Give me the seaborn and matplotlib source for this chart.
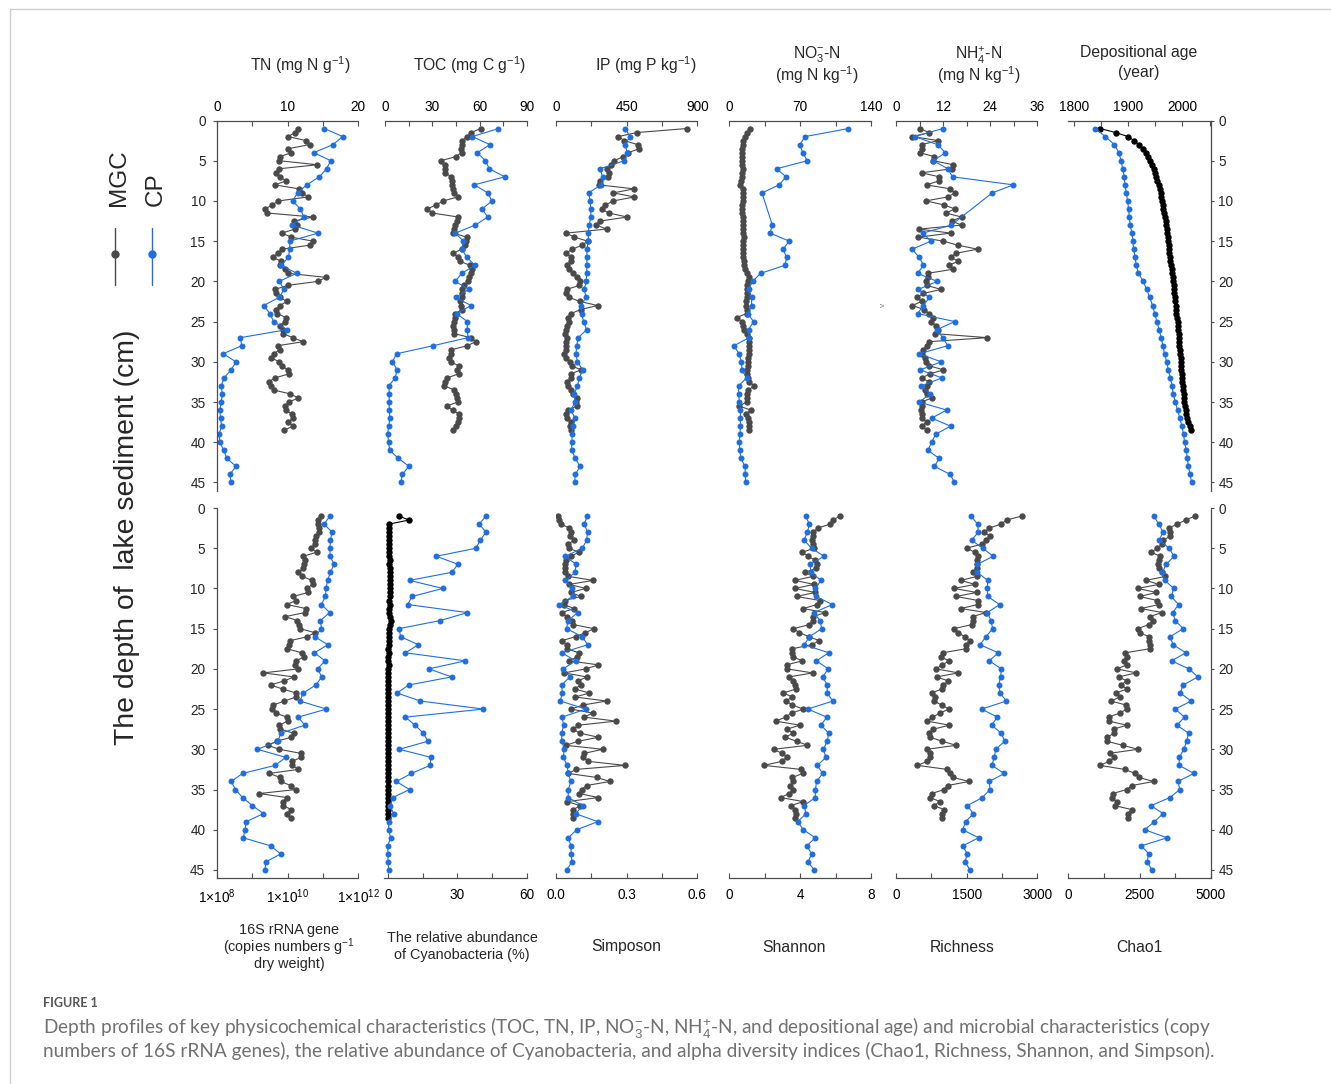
import numpy as np
import pandas as pd
import seaborn as sns
import matplotlib.pyplot as plt
from matplotlib.lines import Line2D

sns.set_theme(style="white")
plt.rcParams['font.family'] = ['Liberation Sans', 'DejaVu Sans']
plt.rcParams['mathtext.fontset'] = 'custom'
plt.rcParams['mathtext.rm'] = 'Liberation Sans'
plt.rcParams['mathtext.it'] = 'Liberation Sans:italic'
plt.rcParams['mathtext.bf'] = 'Liberation Sans:bold'

# sampling depths (cm): MGC every 0.5 cm, CP every 1 cm
depth_mgc = np.arange(1, 39, 0.5)
depth_cp = np.arange(1, 46, 1)
nan = np.nan

# ---- physicochemical (top row) ----
tn_mgc = [11.5, 11.0, 10.1, 12.6, 13.1, 10.1, 10.5, 8.9, 8.8, 14.2,
          8.8, 8.4, 8.9, 9.8, 8.2, 11.6, 12.1, 12.9, 8.7, 7.8,
          6.8, 7.1, 13.6, 10.9, 11.3, 11.0, 9.2, 10.5, 13.6, 13.1,
          9.2, 8.6, 7.9, 9.1, 8.9, 9.6, 10.1, 15.4, 14.3, 10.0,
          8.2, 8.3, 8.9, 9.9, 8.9, 8.4, 8.5, 9.8, 9.6, 8.9,
          9.3, 9.4, 10.7, 12.2, 8.6, 8.9, 8.0, 7.7, 8.8, 9.2,
          10.0, 10.2, 8.2, 7.3, 7.6, 8.0, 10.4, 11.5, 10.2, 9.6,
          9.7, 10.6, 10.8, 10.0, 10.8, 9.5]
tn_cp = [15.2, 17.8, 16.4, 13.7, 16.1, 15.5, 14.5, 12.7, 11.4, 10.7,
         11.8, 12.3, 10.6, 14.3, 10.3, 10.3, 10.1, 9.1, 11.3, 8.8,
         9.5, 8.8, 6.6, 7.5, 8.0, 9.9, 3.3, 3.5, 0.85, 2.7,
         2.0, 1.0, 0.6, 0.75, 0.6, 0.4, 0.5, 0.65, 0.3, 0.4,
         0.95, 1.4, 2.7, 1.8, 2.0]

toc_mgc = [60.7, 54.6, 52.2, 49.0, 48.6, 48.4, 48.6, 44.8, 35.4, 38.2,
           38.2, 38.2, 41.8, 42.7, 42.7, 42.9, 43.7, 46.1, 36.9, 32.3,
           26.7, 29.7, 46.5, 45.4, 44.6, 43.7, 43.3, 51.8, 51.4, 50.7,
           48.6, 43.3, 46.5, 47.5, 53.9, 55.0, 54.3, 53.5, 52.8, 50.1,
           48.6, 49.0, 48.6, 47.5, 48.0, 48.8, 44.4, 44.4, 43.9, 43.3,
           43.7, 43.9, 54.3, 57.5, 52.2, 42.0, 41.6, 40.3, 41.6, 46.9,
           45.4, 46.7, 39.3, 38.0, 37.6, 43.9, 44.8, 45.6, 46.1, 39.1,
           42.9, 46.7, 46.7, 46.3, 45.0, 42.9]
toc_cp = [72.0, 55.4, 66.6, 58.6, 63.7, 66.2, 76.0, 56.7, 65.2, 67.9,
          61.6, 65.2, 57.3, 44.6, 49.7, 48.8, 51.8, 57.1, 48.6, 44.6,
          53.0, 44.8, 54.6, 45.4, 52.2, 52.2, 52.6, 30.4, 7.2, 4.5,
          7.6, 6.2, 2.3, 2.5, 2.5, 2.5, 3.0, 2.1, 1.5, 2.1,
          2.8, 8.3, 15.1, 10.8, 10.0]

ip_mgc = [832, 514, 397, 435, 520, 529, 461, 429, 369, 350,
          327, 340, 333, 280, 274, 497, 365, 499, 365, 314,
          293, 335, 454, 280, 255, 323, 64, 117, 202, 166,
          104, 62, 96, 93, 72, 83, 110, 136, 153, 149,
          68, 64, 85, 153, 265, 157, 96, 79, 81, 72,
          62, 55, 68, 64, 64, 64, 51, 64, 91, 100,
          159, 93, 98, 68, 76, 93, 110, 132, 127, 132,
          79, 64, 70, 93, 89, 93]
ip_cp = [441, 471, 439, 454, 435, 280, 297, 287, 208, 217,
         221, 223, 210, 206, 206, 197, 197, 197, 195, 193,
         180, 191, 159, 163, 176, 195, 142, 132, 127, 136,
         170, 149, 136, 117, 123, 93, 123, 106, 104, 100,
         100, 123, 153, 123, 119]

no3_mgc = [20.4, 17.1, 15.2, 13.8, 13.2, 12.2, 12.2, 12.5, 12.5, 12.8,
           13.2, 12.5, 12.8, 11.5, 10.5, 13.8, 13.8, 13.2, 13.2, 12.8,
           12.5, 12.5, 13.5, 13.5, 13.2, 13.8, 13.8, 14.2, 13.8, 13.8,
           13.5, 13.8, 13.8, 14.5, 14.5, 15.2, 17.1, 19.8, 18.8, 17.8,
           17.1, 17.8, 17.1, 16.5, 16.5, 17.1, 17.1, 7.2, 12.2, 13.8,
           14.5, 17.8, 19.1, 19.8, 19.1, 19.8, 19.1, 18.8, 18.8, 18.4,
           17.1, 17.1, 18.8, 19.8, 24.7, 18.8, 17.8, 17.8, 17.1, 9.9,
           21.1, 16.5, 18.8, 19.8, 19.8, 19.8]
no3_cp = [117.6, 74.8, 69.8, 72.5, 77.1, 46.8, 56.0, 49.4, 32.3, nan,
          nan, nan, 42.5, 40.2, 59.3, 53.0, 56.7, 55.0, 31.0, 23.0,
          19.0, 22.0, 22.0, 18.0, 24.0, 19.0, 19.5, 4.6, 9.6, 12.0,
          12.5, 17.0, 9.2, 9.2, 10.0, 11.0, 11.0, 11.0, 10.5, 10.0,
          10.2, 11.5, 15.5, 15.8, 16.1]

nh4_mgc = [6.1, 8.4, 4.2, 10.8, 6.5, 6.5, 6.1, 9.8, 9.5, 14.6,
           14.2, 6.5, 11.0, 11.0, 7.8, 13.8, 15.0, 13.2, 7.6, 12.3,
           15.0, 12.7, 16.7, 14.2, 16.7, 5.9, 14.0, 5.7, 12.1, 15.7,
           20.8, 15.4, 13.9, 15.9, 13.5, 14.4, 8.1, 8.2, 7.7, 7.8,
           11.5, 7.0, 5.3, 6.5, 4.2, 7.1, 8.5, 9.5, 8.8, 10.2,
           10.8, 9.9, 23.3, 8.3, 7.8, 7.0, 6.7, 7.4, 7.6, 8.5,
           12.1, 8.7, 6.5, 8.5, 7.8, 7.4, 7.8, 9.1, 6.5, 6.5,
           6.3, 6.5, 6.7, 7.8, 6.5, 7.8]
nh4_cp = [11.9, 4.8, 10.6, 12.6, 9.5, 13.2, 14.4, 29.9, 24.5, nan,
          nan, nan, 14.1, 6.8, 8.9, 4.1, 5.9, 7.0, 5.5, 10.5,
          5.7, 8.5, 7.0, 5.5, 15.0, 10.4, 11.9, 13.2, 5.9, 11.5,
          6.2, 11.7, 6.4, 8.7, 5.9, 12.9, 9.1, 13.9, 10.1, 9.1,
          8.1, 11.0, 9.8, 13.8, 14.9]

age_mgc = [1849, 1877, 1900, 1911, 1920, 1928, 1933, 1937, 1941, 1944,
           1947, 1950, 1952, 1954, 1956, 1958, 1960, 1961, 1963, 1964,
           1965, 1966, 1967, 1969, 1970, 1971, 1972, 1973, 1974, 1975,
           1975.5, 1976, 1977, 1978, 1979, 1980, 1981, 1982, 1983, 1984,
           1984.5, 1985, 1986, 1987, 1988, 1988.5, 1989, 1990, 1991, 1991.5,
           1992, 1993, 1993.5, 1994, 1994.5, 1995, 1996, 1996.5, 1997, 1997.5,
           1998, 1999, 1999.5, 2000, 2000.5, 2001, 2002, 2002.5, 2003.5, 2005,
           2006, 2007, 2009, 2011, 2013.5, 2016.5]
age_cp = [1840, 1858, 1875, 1883, 1887, 1890, 1893, 1894, 1897, 1899,
          1901, 1902, 1904, 1907, 1909, 1910, 1913, 1915, 1919, 1928,
          1934, 1940, 1945, 1949, 1953, 1957, 1961, 1964, 1967, 1971,
          1974, 1978, 1981, 1983, 1987, 1991, 1995, 1999, 2002, 2004,
          2007, 2009, 2011, 2014, 2017]

# ---- microbial (bottom row) ----
log16s_mgc = [10.95, 10.85, 10.87, 10.89, 10.88, 10.80, 10.79, 10.79, 10.67, 10.82,
              10.45, 10.49, 10.48, 10.43, 10.31, 10.42, 10.69, 10.71, 10.54, 10.59,
              10.15, 10.24, 9.98, 10.52, 10.49, 9.94, 10.28, 10.33, 10.35, 10.77,
              10.56, 10.07, 10.03, 9.99, 10.40, 10.48, 10.24, 10.22, 10.31, 9.32,
              10.18, 9.90, 9.52, 9.86, 10.24, 10.24, 9.91, 9.60, 9.56, 9.67,
              9.98, 10.00, 9.77, 9.79, 10.18, 10.11, 9.69, 9.44, 9.77, 10.37,
              10.39, 10.12, 10.12, 10.31, 9.49, 9.79, 9.81, 10.09, 10.24, 9.20,
              9.98, 9.88, 9.88, 10.11, 9.98, 10.11]
log16s_cp = [11.20, 11.03, 11.26, 11.21, 11.20, 11.20, 11.32, 11.21, 11.13, 11.09,
             11.07, 10.96, 11.19, 10.93, 10.96, 10.77, 11.14, 10.76, 11.06, 10.85,
             10.97, 10.80, 10.45, 10.35, 11.10, 10.30, 10.49, 9.81, 9.73, 9.15,
             9.95, 9.65, 8.73, 8.41, 8.53, 8.73, 9.01, 9.32, 8.83, 8.80,
             8.75, 9.52, 9.81, 9.39, 9.36]

cyano_mgc = [4.9, 9.1, 0.6, 0.5, 0.6, 0.5, 0.6, 0.7, 0.6, 0.7,
             0.7, 0.8, 0.7, 0.8, 0.8, 0.9, 0.9, 1.0, 0.9, 0.8,
             0.8, 0.7, 0.8, 0.7, 0.7, 0.9, 1.5, 1.0, 0.5, 0.5,
             0.4, 0.4, 0.4, 0.3, 0.4, 0.3, 0.3, 0.4, 0.3, 0.3,
             0.3, 0.2, 0.3, 0.3, 0.2, 0.3, 0.3, 0.2, 0.3, 0.3,
             0.2, 0.3, 0.3, 0.2, 0.3, 0.3, 0.2, 0.3, 0.3, 0.3,
             0.2, 0.3, 0.3, 0.2, 0.3, 0.2, 0.3, 0.3, 0.2, 0.3,
             0.2, 0.2, 0.3, 0.2, 0.2, 0.1]
cyano_cp = [42.4, 39.5, 42.4, 40.0, 38.1, 21.0, 30.3, 27.6, 9.4, 23.8,
            10.5, 8.6, 34.4, 22.6, 4.8, 5.6, 13.2, 7.6, 33.5, 17.8,
            27.6, 9.1, 4.0, 14.1, 41.3, 7.6, 11.8, 15.4, 17.3, 5.0,
            18.6, 18.3, 10.2, 3.7, 9.4, 2.2, 0.9, 2.6, 0.4, 0.4,
            1.2, 0.0, 0.1, 0.1, 0.4]

simpson_mgc = [0.010, 0.014, 0.021, 0.057, 0.065, 0.059, 0.076, 0.052, 0.054, 0.098,
               0.062, 0.042, 0.038, 0.040, 0.037, 0.052, 0.158, 0.057, 0.126, 0.064,
               0.105, 0.037, 0.035, 0.076, 0.025, 0.045, 0.067, 0.074, 0.161, 0.125,
               0.083, 0.024, 0.048, 0.045, 0.098, 0.091, 0.055, 0.180, 0.127, 0.035,
               0.130, 0.095, 0.105, 0.079, 0.142, 0.081, 0.215, 0.113, 0.064, 0.156,
               0.120, 0.255, 0.095, 0.071, 0.102, 0.180, 0.095, 0.041, 0.198, 0.120,
               0.113, 0.137, 0.293, 0.085, 0.052, 0.173, 0.229, 0.130, 0.109, 0.099,
               0.180, 0.048, 0.102, 0.074, 0.071, 0.071]
simpson_cp = [0.133, 0.120, 0.134, 0.130, 0.112, 0.040, 0.085, 0.081, 0.040, 0.069,
              0.071, 0.013, 0.092, 0.051, 0.045, 0.112, 0.134, 0.025, 0.083, 0.030,
              0.059, 0.024, 0.027, 0.018, 0.127, 0.025, 0.033, 0.024, 0.025, 0.035,
              0.031, 0.048, 0.051, 0.064, 0.052, 0.052, 0.113, 0.083, 0.177, 0.088,
              0.052, 0.064, 0.064, 0.068, 0.045]

shannon_mgc = [6.25, 5.84, 5.69, 4.99, 4.75, 4.71, 4.65, 4.71, 4.78, 4.12,
               4.46, 4.84, 4.93, 4.90, 4.27, 4.71, 3.71, 4.78, 3.71, 4.84,
               3.80, 5.12, 4.95, 4.18, 5.40, 4.75, 4.75, 4.52, 3.62, 3.95,
               4.52, 5.08, 4.65, 3.56, 3.56, 3.58, 4.12, 3.24, 3.24, 4.71,
               3.37, 3.62, 3.71, 3.77, 3.05, 3.56, 3.20, 3.56, 4.18, 3.52,
               3.18, 2.62, 3.99, 3.24, 3.62, 3.15, 3.80, 4.41, 2.52, 2.96,
               3.24, 2.96, 1.96, 4.05, 4.14, 3.56, 3.62, 3.43, 3.62, 3.37,
               2.90, 4.18, 3.47, 3.71, 3.75, 3.71]
shannon_cp = [4.31, 4.52, 4.41, 4.22, 4.65, 5.35, 4.56, 4.60, 5.18, 4.86,
              4.90, 5.82, 4.78, 5.12, 5.22, 4.52, 4.24, 5.61, 4.92, 5.59,
              5.27, 5.53, 5.53, 5.84, 4.43, 5.50, 5.18, 5.61, 5.53, 5.31,
              5.46, 4.97, 5.27, 4.93, 4.86, 4.86, 4.22, 4.33, 3.86, 4.18,
              4.86, 4.37, 4.65, 4.44, 4.80]

richness_mgc = [2668, 2350, 2229, 1981, 1875, 1996, 1911, 1819, 1500, 1677,
                1734, 1713, 1727, 1713, 1642, 1727, 1373, 1677, 1231, 1713,
                1274, 1741, 1734, 1380, 1911, 1628, 1628, 1606, 1231, 1309,
                1465, 1571, 1486, 1486, 991, 948, 1125, 984, 849, 1323,
                863, 1111, 1005, 970, 757, 828, 807, 970, 1125, 934,
                771, 665, 1132, 792, 708, 722, 984, 1274, 665, 722,
                722, 665, 453, 1090, 1146, 1217, 1550, 1097, 1026, 757,
                722, 934, 807, 1026, 970, 970]
richness_cp = [1592, 1734, 1748, 1606, 1840, 2066, 1727, 1727, 1946, 1939,
               1946, 2201, 1939, 2017, 2052, 1911, 1783, 2172, 1981, 2236,
               2222, 2180, 2208, 2343, 1819, 2151, 2031, 2236, 2307, 2116,
               2088, 2031, 2300, 1981, 1996, 1833, 1514, 1642, 1479, 1415,
               1755, 1415, 1514, 1465, 1571]

chao1_mgc = [4447, 4118, 3824, 3529, 3565, 3588, 3329, 3294, 3118, 2906,
             3235, 3176, 3153, 3176, 3294, 3412, 2729, 3176, 2435, 3094,
             2506, 3118, 3176, 2553, 3294, 2859, 2976, 2824, 2435, 2506,
             2824, 2824, 2859, 2859, 2000, 2059, 1941, 2059, 1706, 2388,
             1765, 2059, 1847, 2059, 1682, 1800, 1494, 2035, 2059, 1800,
             1412, 1424, 2059, 1588, 1612, 1353, 1353, 1906, 2447, 1447,
             1612, 1424, 1118, 1976, 2353, 2471, 3000, 2235, 2059, 1553,
             1529, 1706, 1624, 2235, 2082, 2082]
chao1_cp = [3000, 3176, 3329, 3188, 3541, 3706, 3447, 3294, 3388, 3706,
            3612, 3871, 3671, 3753, 4035, 3576, 3682, 4129, 3624, 4235,
            4553, 4035, 3929, 4318, 3753, 4082, 3812, 4224, 4153, 4059,
            3894, 3894, 4412, 3847, 3918, 3565, 2906, 3329, 3024, 2682,
            3471, 2565, 2824, 2765, 2941]

top_titles = [['TN (mg N g$^{-1}$)'], ['TOC (mg C g$^{-1}$)'], ['IP (mg P kg$^{-1}$)'],
              ['NO$_3^{-}$-N', '(mg N kg$^{-1}$)'], ['NH$_4^{+}$-N', '(mg N kg$^{-1}$)'],
              ['Depositional age', '(year)']]
bottom_titles = [['16S rRNA gene', '(copies numbers g$^{-1}$', 'dry weight)'],
                 ['The relative abundance', 'of Cyanobacteria (%)'],
                 ['Simposon'], ['Shannon'], ['Richness'], ['Chao1']]

W, H = 1331, 1084
fig = plt.figure(figsize=(W / 100, H / 100), dpi=100)

GRAY = '#4a4a4a'
BLUE = '#1f6fe0'
BLACK = '#000000'
AXC = '#4d4d4d'


def px_axes(x0, x1, ytop, ybot):
    return fig.add_axes([x0 / W, 1 - ybot / H, (x1 - x0) / W, (ybot - ytop) / H])


def profile(ax, mgc, cp, mgc_color=GRAY):
    for depth, vals, col, ms in [(depth_mgc, mgc, mgc_color, 4.6),
                                 (depth_cp, cp, BLUE, 4.3)]:
        df = pd.DataFrame({'depth': depth, 'value': vals}).dropna()
        sns.lineplot(data=df, x='value', y='depth', sort=False, estimator=None,
                     color=col, linewidth=0.8, marker='o', markersize=ms,
                     markeredgewidth=0, ax=ax)


def style(ax, row, col, xlim, major, labels, minor):
    for s in ax.spines.values():
        s.set_visible(False)
        s.set_color(AXC)
        s.set_linewidth(0.9)
    ax.set_xlim(*xlim)
    ax.set_ylim(46, 0)
    ax.set_xlabel('')
    ax.set_ylabel('')
    ax.set_xticks(major)
    ax.set_xticklabels(labels)
    ax.set_xticks(minor, minor=True)
    if row == 0:
        ax.spines['top'].set_visible(True)
        ax.tick_params(axis='x', which='both', top=True, bottom=False,
                       labeltop=True, labelbottom=False, direction='in')
        ax.tick_params(axis='x', which='major', pad=5)
    else:
        ax.spines['bottom'].set_visible(True)
        ax.tick_params(axis='x', which='both', top=False, bottom=True,
                       labeltop=False, labelbottom=True, direction='in')
        ax.tick_params(axis='x', which='major', pad=7)
    ax.tick_params(axis='x', which='both', length=3.5, width=0.8, color=AXC,
                   labelsize=9.8, labelcolor='black')
    ax.set_yticks(range(0, 46, 5))
    if col == 0:
        ax.spines['left'].set_visible(True)
        ax.tick_params(axis='y', left=True, right=False, labelleft=True,
                       labelright=False, direction='out', length=3.2, width=0.8,
                       color=AXC, pad=5, labelsize=9.8)
    elif col == 5:
        ax.spines['right'].set_visible(True)
        ax.tick_params(axis='y', left=False, right=True, labelleft=False,
                       labelright=True, direction='out', length=2.5, width=0.8,
                       color=AXC, pad=3, labelsize=9.8)
    else:
        ax.tick_params(axis='y', left=False, right=False, labelleft=False,
                       labelright=False)
    ax.patch.set_alpha(0)


def title_lines(cx, ycenter, lines, step, fs):
    y0 = ycenter - step * (len(lines) - 1) / 2
    for k, t in enumerate(lines):
        fig.text(cx / W, 1 - (y0 + k * step) / H, t, ha='center', va='center',
                 fontsize=fs)


# ---- top row ----
top_x = [(217, 358.3), (385.3, 526.7), (556, 697.3), (729.3, 871),
         (896, 1037.3), (1068.3, 1210.7)]
top_data = [(tn_mgc, tn_cp, GRAY), (toc_mgc, toc_cp, GRAY), (ip_mgc, ip_cp, GRAY),
            (no3_mgc, no3_cp, GRAY), (nh4_mgc, nh4_cp, GRAY), (age_mgc, age_cp, BLACK)]
top_axis = [((0, 20), [0, 10, 20], ['0', '10', '20'], [5, 15]),
            ((0, 90), [0, 30, 60, 90], ['0', '30', '60', '90'], [15, 45, 75]),
            ((0, 900), [0, 450, 900], ['0', '450', '900'], [225, 675]),
            ((0, 140), [0, 70, 140], ['0', '70', '140'], [35, 105]),
            ((0, 36), [0, 12, 24, 36], ['0', '12', '24', '36'], [6, 18, 30]),
            ((1790, 2052), [1800, 1900, 2000], ['1800', '1900', '2000'], [1850, 1950, 2050])]
top_title_x = [300, 470, 646, 817, 979, 1139]
top_title_y = [65, 65, 65, 65, 65, 63]

for i in range(6):
    ax = px_axes(top_x[i][0], top_x[i][1], 120.5, 490.5)
    mgc, cp, c = top_data[i]
    profile(ax, mgc, cp, c)
    style(ax, 0, i, *top_axis[i])
    title_lines(top_title_x[i], top_title_y[i], top_titles[i], 20, 11.3)

# ---- bottom row ----
bot_x = [(216.7, 358.3), (384.3, 526.7), (556, 697.3), (729.3, 871),
         (896, 1037.3), (1068.3, 1210.7)]
bot_data = [(10 ** np.array(log16s_mgc), 10 ** np.array(log16s_cp), GRAY),
            (cyano_mgc, cyano_cp, BLACK), (simpson_mgc, simpson_cp, GRAY),
            (shannon_mgc, shannon_cp, GRAY), (richness_mgc, richness_cp, GRAY),
            (chao1_mgc, chao1_cp, GRAY)]
bot_axis = [((1e8, 1e12), [1e8, 1e10, 1e12],
             ['1×10$^{8}$', '1×10$^{10}$', '1×10$^{12}$'], [1e9, 1e11]),
            ((-1.5, 60), [0, 30, 60], ['0', '30', '60'], [15, 45]),
            ((0, 0.6), [0, 0.3, 0.6], ['0.0', '0.3', '0.6'], [0.15, 0.45]),
            ((0, 8), [0, 4, 8], ['0', '4', '8'], [2, 6]),
            ((0, 3000), [0, 1500, 3000], ['0', '1500', '3000'], [750, 2250]),
            ((0, 5000), [0, 2500, 5000], ['0', '2500', '5000'], [1250, 3750])]
bot_title_x = [289, 462, 626, 794, 962, 1139]
bot_title_fs = [10.4, 10.4, 11.3, 11.3, 11.3, 11.3]

for i in range(6):
    ax = px_axes(bot_x[i][0], bot_x[i][1], 508, 878)
    if i == 0:
        ax.set_xscale('log')
    mgc, cp, c = bot_data[i]
    profile(ax, mgc, cp, c)
    style(ax, 1, i, *bot_axis[i])
    if i == 0:
        ax.xaxis.set_minor_formatter(plt.NullFormatter())
    title_lines(bot_title_x[i], 947, bottom_titles[i], 17, bot_title_fs[i])

# ---- shared y label and rotated legend ----
fig.text(127 / W, 1 - 537 / H, 'The depth of  lake sediment (cm)', rotation=90,
         ha='center', va='center', fontsize=20.4)
for lx, tx, lab, col in [(115, 119, 'MGC', GRAY), (152, 156, 'CP', BLUE)]:
    fig.add_artist(Line2D([lx / W, lx / W], [1 - 228 / H, 1 - 285 / H],
                          transform=fig.transFigure, color=col, lw=1.0))
    fig.add_artist(Line2D([lx / W], [1 - 254 / H], transform=fig.transFigure,
                          color=col, marker='o', markersize=6, markeredgewidth=0))
    fig.text(tx / W, 1 - 206 / H, lab, rotation=90, ha='center', va='bottom',
             fontsize=17.5)

fig.text(883 / W, 1 - 305 / H, 'v', rotation=90, ha='center', va='center',
         fontsize=6, color='#777777')

# ---- frame and caption ----
fig.add_artist(Line2D([10 / W, 1], [1 - 9 / H, 1 - 9 / H], transform=fig.transFigure,
                      color='#cfcfcf', lw=1.0))
fig.add_artist(Line2D([10 / W, 10 / W], [1 - 9 / H, 0], transform=fig.transFigure,
                      color='#cfcfcf', lw=1.0))
fig.text(43 / W, 1 - 1003 / H, 'FIGURE 1', ha='left', va='center', fontsize=9,
         fontweight='bold', color='#555555', family=['Lato', 'DejaVu Sans'])
cap1 = ('Depth profiles of key physicochemical characteristics (TOC, TN, IP, NO$_3^{-}$-N, '
        'NH$_4^{+}$-N, and depositional age) and microbial characteristics (copy')
cap2 = ('numbers of 16S rRNA genes), the relative abundance of Cyanobacteria, and alpha '
        'diversity indices (Chao1, Richness, Shannon, and Simpson).')
for y, t in [(1027, cap1), (1051, cap2)]:
    fig.text(43 / W, 1 - y / H, t, ha='left', va='center', fontsize=13.7,
             color='#707070', family=['Lato', 'DejaVu Sans'])

fig.savefig('out.png', dpi=100)
